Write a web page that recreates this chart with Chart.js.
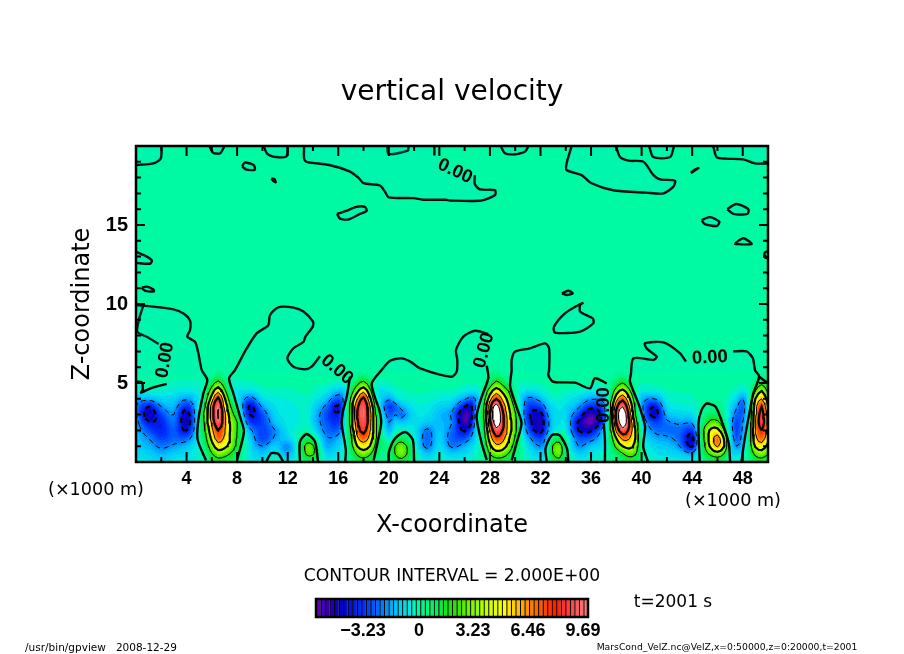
<!DOCTYPE html>
<html>
<head>
<meta charset="utf-8">
<title>vertical velocity</title>
<script src="https://cdn.jsdelivr.net/npm/chart.js@4"></script>
<style>
  html, body { margin: 0; padding: 0; background: #ffffff; }
  canvas { display: block; }
</style>
</head>
<body>
<canvas id="contourChart" width="904" height="654"></canvas>
<script>
// vertical velocity field, x and z in km
const xGrid = [0,1,2,3,4,5,5.5,6,6.5,7,7.5,8,9,10,11,12,13,13.5,14,15,16,16.5,17,17.5,18,18.5,19,20,20.5,21,22,23,24,25,26,26.5,27,27.5,28,28.5,29,29.5,30,31,32,32.5,33,33.5,34,35,36,37,37.5,38,38.5,39,39.5,40,41,42,43,44,44.5,45,45.5,46,46.5,47,47.5,48,48.5,49,49.5,50];
const zGrid = [0,0.5,1,1.5,2,2.5,3,3.5,4,4.5,5,5.5,6];

// one profile per xGrid entry, bottom to top (z = 0 ... 5.5, z = 6 is taken as 0)
const velocityColumns = [
  [-.5,-.8,-1,-1.2,-1.3,-1.5,-1.8,-2,-1.5,-.3,-.2,-.1],
  [-.6,-1,-1.5,-2,-2.8,-3.8,-4.8,-4,-1.5,-.3,-.1,-.1],
  [-.8,-1.5,-2.2,-3,-3.6,-3.6,-3,-2,-1,-.3,-.1,-.1],
  [-.5,-1,-1.8,-2.5,-2.6,-2.3,-2,-1.5,-1,-.5,-.2,-.1],
  [-.4,-.8,-1.3,-2.5,-4,-4.8,-4.6,-3.5,-1.8,-.6,-.2,-.1],
  [-.3,-.3,-.2,-.2,0,.1,0,-.2,-.6,-.4,-.2,-.1],
  [0,.3,1,1.6,2.2,2.6,3,2.2,1.2,.5,.1,0],
  [.5,1.8,3.2,4.5,5.5,6.4,7,7,5,3,1.2,.1],
  [1,3,5,7,8,9.6,10.2,9.8,8.5,5.4,2.6,.6],
  [.9,2.6,4.5,5.7,6.2,6.6,6.6,5.6,4.4,2.5,1,.1],
  [.6,1.8,3.2,3.6,3.7,3.6,2.8,2,.8,.1,-.2,-.1],
  [.2,.8,1.5,1.8,2,2,1.2,.3,-.5,-.6,-.2,-.1],
  [-.4,-.6,-.8,-1,-1.6,-3,-4,-4.2,-2.5,-.8,-.2,-.1],
  [-.6,-1.2,-2,-3,-3,-3,-2.8,-1.8,-.8,-.3,-.1,-.1],
  [.1,-.5,-1,-1.8,-2,-1.3,-.9,-.7,-.5,-.2,-.1,-.1],
  [-.5,-1.5,-2,-1,-.7,-.6,-.6,-.5,-.4,-.2,-.1,0],
  [.1,.4,.6,.2,-.2,-.4,-.4,-.4,-.3,-.1,-.1,0],
  [.5,2.2,2.6,.9,0,-.2,-.3,-.3,-.2,-.1,0,0],
  [.3,2.2,2.2,.6,-.5,-1,-1,-.8,-.4,-.2,-.1,0],
  [-.3,-.8,-1.5,-1.8,-2.3,-2.6,-2.8,-2.2,-1.2,-.5,-.1,0],
  [-.4,-.6,-1,-1.6,-2.5,-3.2,-3.8,-4.2,-2.8,-1.3,-.3,0],
  [-.2,-.2,-.3,-.3,-.5,-.8,-1,-1.2,-1.5,-1,-.1,0],
  [.2,.6,1.2,1.6,2.2,2.6,3,3,2.2,1,.2,0],
  [.8,2.2,4,5.6,6.8,7.6,8,7.6,5.8,3.5,1.5,.2],
  [1,3,5,7,8.6,9.2,9.5,9.4,8.5,5.4,2.5,.5],
  [.7,2.2,4,5.4,6.2,6.8,7,6.4,4.6,2.6,1,.1],
  [.2,.8,1.5,2,2.2,2.2,1.8,1,.2,-.4,-.2,0],
  [.1,.4,.4,-.5,-1.5,-2,-2.6,-3.2,-1.8,-.6,-.2,0],
  [.8,2,2,.6,-.3,-1,-2,-2.6,-1,-.3,-.1,0],
  [1,3,3,1,-.2,-1.2,-2.4,-1.6,-.5,-.2,-.1,0],
  [.1,.3,.1,-.3,-.6,-.7,-.8,-.6,-.3,-.1,-.1,0],
  [-.4,-1.2,-2.3,-2.5,-2.2,-1.2,-.7,-.5,-.3,-.1,0,0],
  [-.3,-.5,-.8,-1,-1.2,-1.4,-1.4,-1,-.5,-.2,0,0],
  [-.4,-1,-2.2,-2.6,-2.4,-2,-2.2,-1.5,-.7,-.2,0,0],
  [-.4,-.8,-1.5,-2.8,-4.2,-5.5,-5.6,-4,-1.8,-.5,-.1,0],
  [-.3,-.5,-1,-1.8,-3,-4.2,-4.8,-4.4,-2.4,-.7,-.1,0],
  [-.1,-.2,-.4,-.5,-.4,-.3,-.3,-1,-1.6,-.6,-.1,0],
  [0,.2,.4,.8,1.2,1.6,2,1.8,1,.5,.1,0],
  [.6,2,3.5,5,6.2,7.4,8,7.4,5.2,3,1,.2],
  [1,3,5.5,7.5,9.4,11,11.6,11,8,5,2.5,.7],
  [1,2.8,5,6.8,8,8.8,8.6,7.4,5.6,3.5,1.5,.2],
  [.5,1.8,3.2,4.2,5,5,4.6,4,3,1.8,.5,0],
  [.1,.7,1.2,1.8,2.4,2.6,2.2,1.5,.6,.1,-.1,0],
  [-.3,-.4,-.8,-1.5,-2.5,-3,-3.5,-3,-2.2,-.8,-.2,0],
  [-.4,-1,-2,-3,-4.6,-5,-4.6,-3,-1.5,-.5,-.1,0],
  [-.1,-.3,-.8,-1.5,-2.4,-2.6,-2.2,-1.5,-.7,-.2,-.1,0],
  [.8,2,2.2,.6,-.8,-1,-1,-.8,-.4,-.1,0,0],
  [1,2.8,2.8,1,-.4,-.7,-.7,-.6,-.3,-.1,0,0],
  [.3,.6,.5,.1,-.5,-.8,-1,-.8,-.5,-.2,0,0],
  [-.4,-1,-2,-2.6,-4,-4.2,-3,-1.8,-1,-.3,0,0],
  [-.3,-.6,-1.2,-2.5,-4.2,-6,-5.5,-3.5,-1.8,-.5,-.1,0],
  [-.1,-.3,-.6,-.8,-1.2,-2.6,-3,-2.4,-1.6,-.4,-.1,0],
  [.1,.2,.4,.8,1.3,1.8,2,1.6,.8,.3,.1,0],
  [.3,.8,2.5,4,6.4,8,8.6,7.4,5.2,3,1,.2],
  [.6,1.8,4,6.5,9.4,11,11.6,10,7.4,4.5,2,.4],
  [.9,2.6,4.6,6.2,7.6,8.4,7.6,6.4,4.6,2.5,.8,0],
  [.7,2.2,3.4,4,4,3.2,2.2,1.6,.8,.2,0,0],
  [.1,.3,.3,.1,-.2,-.6,-1.2,-1.6,-1.4,-.5,-.1,0],
  [-.3,-.6,-.9,-1.5,-2.2,-3,-4.5,-4,-2,-.5,-.1,0],
  [-.3,-.8,-1.2,-1.8,-2.4,-2.2,-1.5,-.9,-.5,-.2,0,0],
  [-.4,-1,-2,-2.5,-2.5,-1.8,-1,-.5,-.3,-.1,0,0],
  [-.2,-1.6,-4.2,-4.6,-3.2,-1.8,-.8,-.4,-.2,-.1,0,0],
  [-.1,-.4,-.8,-.8,-.5,-.3,-.2,-.1,-.1,0,0,0],
  [.1,1.2,2,2.4,2.6,1.2,.4,.2,.1,0,0,0],
  [.4,2.4,4.6,5,4.4,2.6,1,.3,.1,0,0,0],
  [.5,3,6.2,6.8,4.6,2.4,1,.3,.1,0,0,0],
  [.3,2,4.2,4,2.2,.9,.3,.1,0,0,0,0],
  [-.2,-.5,-.3,-.5,-1,-1.2,-1,-.7,-.4,-.1,0,0],
  [-.2,-.8,-2,-2.6,-3,-3,-2.5,-1.8,-1,-.3,-.1,0],
  [-.1,-.5,-1.2,-1.5,-1.8,-2,-2.4,-2.6,-2,-.6,-.1,0],
  [.3,.5,.8,.8,.7,.4,.2,0,-.2,-.1,0,0],
  [.8,2.4,4.2,5.4,6,5.8,5.5,5,4,2,.5,0],
  [1,3,5,7,8,9,8.8,8,6,4,1.5,.2],
  [.5,2,3.5,4.5,5.5,5.5,5,4,3,1.5,.3,0]
];

// zero contours traced by hand, [x km, z km]
const zeroTopLeft = [[0,18.8],[1.37,18.9],[1.95,19.2],[2.03,20]];
const zeroArcA = [[5.8,20],[6.1,19.58],[6.65,19.54],[7,20]];
const zeroArcB = [[10.1,20],[10.4,19.5],[11.1,19.3],[11.9,19.35],[12,20]];
const zeroArcC = [[19.9,20],[19.97,19.5],[21.5,19.7],[21.55,20]];
const zeroArcD = [[28.85,20],[29.2,19.54],[29.98,19.48],[30.78,19.65],[31.04,20]];
const zeroArcE = [[40.6,20],[40.93,19.3],[42.25,19.3],[42.56,20]];
const zeroTopRight = [[45.67,20],[45.94,19.3],[46.73,19.2],[48.05,19.15],[48.97,18.9],[50,18.9]];
const zeroTopMiddle = [[13.3,20],[13.3,19.2],[13.5,19],[15.3,18.8],[16.9,18.4],[17.6,18],[18,17.65],[19.3,17.5],[19.7,17.1],[20,16.75],[22,16.7],[22.7,16.6],[24.5,16.6],[24.85,16.55],[27.3,16.55],[28.4,16.9],[28.4,17.2],[27.2,17.25],[26.8,17.6],[26.8,18.15]];
const zeroTopMiddleEnd = [[23.6,20],[23.6,19.4]];
const zeroTopBlob = [[34.47,20],[34.07,18.9],[34.07,18.48],[35.26,18.16],[36.05,17.64],[37.76,17.2],[40.4,17.05],[41.72,17],[42.51,17.43],[42.64,17.8],[41.45,17.89],[40.93,18.16],[40.14,19],[38.95,19.07],[38.29,19.3],[37.97,20]];
const zeroBlobs = [
  [[8.4,18.7],[8.75,18.5],[9.4,18.5],[9.3,18.8],[8.6,18.95],[8.4,18.7]],
  [[10.7,17.95],[10.95,17.9],[11.05,17.7],[10.85,17.8],[10.7,17.95]],
  [[15.9,15.7],[16.15,15.4],[16.8,15.35],[17.7,15.7],[18.25,15.9],[18.1,16.15],[17.45,16.15],[16.65,15.9],[15.9,15.7]],
  [[0,13.3],[.85,13],[1.25,12.75],[1.1,12.55],[0,12.6]],
  [[.45,11.03],[.85,11.1],[1.4,10.9],[1.42,10.8],[.7,10.85],[.45,11.03]],
  [[43.9,18.3],[44.5,18.6],[44.2,18.5],[43.9,18.3]],
  [[46.78,16],[47.5,16.33],[48.44,16],[48.37,15.7],[47.26,15.7],[46.78,16]],
  [[44.75,15.3],[45.4,15.5],[46.15,15.2],[45.94,14.94],[45,15.06],[44.75,15.3]],
  [[47.4,13.84],[48.05,14.16],[48.7,13.8],[47.4,13.8],[47.4,13.84]],
  [[50,13.35],[49.75,13.25],[49.75,12.95],[50,12.9]],
  [[33.7,10.67],[34.2,10.84],[34.55,10.67],[34.07,10.57],[33.7,10.67]],
  [[35.4,10.08],[35,9.94],[33.94,9.41],[33.07,8.57],[33.15,8.19],[35.14,8.25],[36.18,8.78],[36.13,9.09],[35.14,9.51],[35.14,9.94],[35.4,10.08]]
];
const zeroPeakOneLeft = [[0,9.93],[.58,9.9],[2.95,9.66],[3.75,9.4],[4.27,8.95],[4.27,8.35],[4.06,7.93],[4.67,7.6],[4.93,6.88],[5.2,5.82],[5.64,5.19],[5.33,4.35],[4.93,2.66],[4.88,1.4],[5.54,.1]];
const zeroLeftLoop = [[.58,9.9],[.3,9.2],[.1,8.25],[.85,7.93],[1.8,7.47]];
const zeroLeftLow = [[0,5.08],[.45,5.05],[.53,4.6],[.4,4.39],[1.1,4.65],[2.43,4.94]];
const zeroPeakOneRight = [[8,.13],[8.54,1.92],[8.23,2.87],[7.7,4.35],[7.36,5.3],[7.83,5.82],[8.75,7.17],[9.55,8.14],[10.47,8.66],[10.6,9.3],[11.26,9.79],[12.45,9.77],[13.24,9.52],[14,8.88],[13.98,8.57],[13.4,7.93],[13.24,7.6],[12.45,7.2],[11.97,6.56],[12.45,6.03],[13.37,5.86],[13.9,6.03],[14.55,6.7]];
const zeroPeakTwoLeft = [[16.93,5.4],[16.67,4.13],[16.4,3.3],[16.27,2.45],[16.6,.76],[16.55,0]];
const zeroPeakTwoRight = [[18.8,.1],[19.1,1.2],[19.4,2.45],[19.25,3.3],[18.9,4.1],[18.65,4.98],[19.43,5.82],[20.1,6.41],[21,6.56],[21.7,6.35],[22.47,5.93],[24.97,5.4],[25.37,5.72],[25.42,6.46],[25.32,7.09],[25.9,7.93],[26.82,8.31],[27.87,8.1]];
const zeroPeakThreeLeft = [[27.75,6.1],[27.87,5.3],[27.35,4.13],[26.95,2.87],[27.35,1.18],[27.75,.13]];
const zeroPeakThreeRight = [[29.72,.1],[30.1,1.18],[30.5,2.45],[30.1,3.5],[29.6,4.78],[29.72,5.82],[29.72,6.46],[29.98,6.98],[31.17,7.19],[32.36,7.51],[32.68,7.19],[32.68,5.82],[32.62,5.5],[33,5.08],[34.73,5.02],[35.92,4.66],[36.3,5.3],[37.24,4.98]];
const zeroPeakFourLeft = [[37,2.45],[37.1,1.39],[37.1,0]];
const zeroPeakFourRight = [[40.5,.02],[40.13,.97],[40.27,2.24],[39.75,3.7],[39.08,5.08],[39.16,5.6],[39.36,6.56],[40.93,6.46],[41.2,6.67],[40.4,7.19],[40.27,7.51],[41.72,7.57],[43.04,6.88],[43.5,6.35]];
const zeroPeakFiveRight = [[47.25,7],[48.3,7],[48.8,6.56],[48.97,5.82],[49.3,5.4],[48.84,4.35],[48.57,3.3],[48.1,1.18],[47.9,0]];
const zeroRightEdge = [[49.3,5.4],[50,4.98]];
const zeroBumps = [
  [[10.3,0],[10.7,.55],[11.26,.5],[11.66,0]],
  [[12.97,0],[12.97,1.29],[13.5,1.77],[14.16,1.29],[14.4,0]],
  [[20,0],[20,.6],[20.5,1.5],[21.3,1.9],[21.9,1.4],[22,0]],
  [[32.5,0],[32.4,.85],[32.9,1.7],[33.5,1.7],[34.1,.85],[34.2,0]],
  [[44.6,0],[44.5,2.45],[44.75,3.3],[45.15,3.7],[45.85,3.5],[46.4,2.45],[46.9,1.18],[47,0]]
];

const contourLevels = [-6,-4,-2,2,4,6,8,10];
const thickLevels = [-4,4,8];

// "0.00" labels on the zero contour: x km, z km, rotation in degrees
const labelX = [2.3,15.9,25.24,27.53,45.4,37];
const labelZ = [6.45,5.85,18.4,7.07,6.6,3.6];
const labelAngle = [-80,40,25,-75,-3,-90];

const xMajorTicks = [4,8,12,16,20,24,28,32,36,40,44,48];
const xMinorTicks = [2,6,10,14,18,22,26,30,34,38,42,46];
const zMajorTicks = [5,10,15];
const zMinorTicks = [1,2,3,4,6,7,8,9,11,12,13,14,16,17,18,19];

// colour table and colour bar labels
const rampValues = [-6,-5.2,-4.5,-3.2,-2.2,-1.4,-.5,0,1,2,3.2,4.2,5,6,6.8,8,9,9.94];
const rampColors = [[106,0,190],[40,0,170],[0,0,205],[0,50,255],[0,120,255],[0,190,255],[0,235,225],[0,250,162],[0,240,90],[30,225,0],[130,250,0],[210,255,0],[255,255,0],[255,175,0],[255,110,0],[255,30,0],[255,70,70],[255,130,130]];
const barLabels = ['\u22123.23','0','3.23','6.46','9.69'];
const barLabelCenters = [363,419,473,528,583];
const barMin = -6;
const barMax = 9.94;
const barStep = 0.266;

const LINE_FONT = "'DejaVu Sans', sans-serif";
const TICK_FONT = "'Liberation Sans', sans-serif";
const FINE_STEP = 0.25;

function rampColor(v) {
    let i = 0;
    while (i < rampValues.length - 2 && v > rampValues[i + 1]) i++;
    const t = Math.min(1, Math.max(0, (v - rampValues[i]) / (rampValues[i + 1] - rampValues[i])));
    const c = rampColors[i].map((a, k) => Math.round(a + (rampColors[i + 1][k] - a) * t));
    return `rgb(${c[0]},${c[1]},${c[2]})`;
}

const bandCache = {};
function bandColor(v) {
    if (v >= barMax) return '#ffffff';
    const idx = Math.floor((Math.max(v, barMin) - barMin) / barStep);
    if (!bandCache[idx]) bandCache[idx] = rampColor(barMin + (idx + 0.5) * barStep);
    return bandCache[idx];
}

function cellValue(col, row) {
    return row >= velocityColumns[col].length ? 0 : velocityColumns[col][row];
}

// cubic resampling so the shading and the contours come out round, like the original plot
function hermite(xs, fs, x) {
    let i = 0;
    while (i < xs.length - 2 && x > xs[i + 1]) i++;
    const h = xs[i + 1] - xs[i];
    const t = (x - xs[i]) / h;
    const slope = k => {
        if (k === 0) return (fs[1] - fs[0]) / (xs[1] - xs[0]);
        if (k === xs.length - 1) return (fs[k] - fs[k - 1]) / (xs[k] - xs[k - 1]);
        return (fs[k + 1] - fs[k - 1]) / (xs[k + 1] - xs[k - 1]);
    };
    const t2 = t * t, t3 = t2 * t;
    return (2 * t3 - 3 * t2 + 1) * fs[i] + (t3 - 2 * t2 + t) * h * slope(i) +
        (-2 * t3 + 3 * t2) * fs[i + 1] + (t3 - t2) * h * slope(i + 1);
}

const fineX = [];
for (let i = 0; i <= 50 / FINE_STEP; i++) fineX.push(i * FINE_STEP);
const fineZ = [];
for (let i = 0; i <= 6 / FINE_STEP; i++) fineZ.push(i * FINE_STEP);

const rowsOnFineX = zGrid.map((_, j) => {
    const row = xGrid.map((_, i) => cellValue(i, j));
    return fineX.map(x => hermite(xGrid, row, x));
});
const fineField = fineX.map((_, i) => {
    const profile = rowsOnFineX.map(row => row[i]);
    return fineZ.map(z => hermite(zGrid, profile, z));
});

function fieldAt(x, z) {
    const i = Math.min(fineX.length - 2, Math.floor(x / FINE_STEP));
    const j = Math.min(fineZ.length - 2, Math.floor(z / FINE_STEP));
    const tx = x / FINE_STEP - i, tz = z / FINE_STEP - j;
    const low = fineField[i][j] * (1 - tx) + fineField[i + 1][j] * tx;
    const high = fineField[i][j + 1] * (1 - tx) + fineField[i + 1][j + 1] * tx;
    return low * (1 - tz) + high * tz;
}

// marching squares, segments stitched into polylines
function traceLevel(level) {
    const segments = [];
    const cross = (x0, z0, a, x1, z1, b) => {
        const t = (level - a) / (b - a);
        return [x0 + (x1 - x0) * t, z0 + (z1 - z0) * t];
    };
    for (let i = 0; i < fineX.length - 1; i++) {
        for (let j = 0; j < fineZ.length - 1; j++) {
            const x0 = fineX[i], x1 = fineX[i + 1], z0 = fineZ[j], z1 = fineZ[j + 1];
            const a = fineField[i][j], b = fineField[i + 1][j], c = fineField[i + 1][j + 1], d = fineField[i][j + 1];
            const pts = [];
            if ((a < level) !== (b < level)) pts.push(cross(x0, z0, a, x1, z0, b));
            if ((b < level) !== (c < level)) pts.push(cross(x1, z0, b, x1, z1, c));
            if ((d < level) !== (c < level)) pts.push(cross(x0, z1, d, x1, z1, c));
            if ((a < level) !== (d < level)) pts.push(cross(x0, z0, a, x0, z1, d));
            if (pts.length >= 2) segments.push([pts[0], pts[1]]);
            if (pts.length === 4) segments.push([pts[2], pts[3]]);
        }
    }
    const key = p => p[0].toFixed(4) + ',' + p[1].toFixed(4);
    const ends = {};
    segments.forEach((s, n) => {
        s.forEach(p => {
            const k = key(p);
            (ends[k] = ends[k] || []).push(n);
        });
    });
    const used = new Array(segments.length).fill(false);
    const extend = line => {
        for (;;) {
            const tail = key(line[line.length - 1]);
            const next = (ends[tail] || []).find(n => !used[n]);
            if (next === undefined) return;
            used[next] = true;
            const s = segments[next];
            line.push(key(s[0]) === tail ? s[1] : s[0]);
        }
    };
    const lines = [];
    segments.forEach((s, n) => {
        if (used[n]) return;
        used[n] = true;
        const line = [s[0], s[1]];
        extend(line);
        line.reverse();
        extend(line);
        lines.push(line);
    });
    return lines;
}

const toPoints = line => line.map(p => ({ x: p[0], y: p[1] }));

function lineDataset(line, width, dash, tension) {
    return {
        data: toPoints(line),
        showLine: true,
        borderColor: '#000000',
        borderWidth: width,
        borderDash: dash || [],
        pointRadius: 0,
        tension: tension,
        fill: false
    };
}

function patchDataset(line) {
    return {
        data: toPoints(line),
        showLine: true,
        borderWidth: 0,
        borderColor: 'rgba(0,0,0,0)',
        backgroundColor: 'rgba(0,225,225,0.14)',
        pointRadius: 0,
        tension: 0.25,
        fill: 'shape'
    };
}

const above = (line, z) => line.filter(p => p[1] >= z);

const patches = [
    zeroTopLeft.concat([[0, 20]]), zeroArcA, zeroArcB, zeroArcC, zeroArcD, zeroArcE,
    zeroTopRight.concat([[50, 20]]), zeroTopMiddle.concat(zeroTopMiddleEnd.slice().reverse()), zeroTopBlob,
    ...zeroBlobs,
    above(zeroPeakOneLeft, 5.5).concat([[5.5, 5.5], [0, 5.5]]),
    above(zeroPeakOneRight, 5.5).concat([[16.5, 5.5]]),
    above(zeroPeakTwoRight, 5.3).concat([[27.6, 5.5]]),
    above(zeroPeakThreeRight, 5.4),
    above(zeroPeakFourRight, 5.5).concat([[45.5, 6.3], [47.25, 7], [48.3, 7], [48.8, 6.56], [48.97, 5.82]])
];

const zeroLines = [
    zeroTopLeft, zeroArcA, zeroArcB, zeroArcC, zeroArcD, zeroArcE, zeroTopRight, zeroTopMiddle, zeroTopMiddleEnd,
    zeroTopBlob, ...zeroBlobs, zeroPeakOneLeft, zeroLeftLoop, zeroLeftLow, zeroPeakOneRight, zeroPeakTwoLeft,
    zeroPeakTwoRight, zeroPeakThreeLeft, zeroPeakThreeRight, zeroPeakFourLeft, zeroPeakFourRight, zeroPeakFiveRight,
    zeroRightEdge, ...zeroBumps
];

const datasets = patches.map(patchDataset).concat(zeroLines.map(l => lineDataset(l, 2.4, null, 0.25)));
contourLevels.forEach(level => {
    const width = thickLevels.includes(level) ? 2.2 : 1;
    traceLevel(level).forEach(line => {
        datasets.push(lineDataset(line, width, level < 0 ? [5, 4] : null, 0));
    });
});

const fieldPlugin = {
    id: 'fieldPlugin',
    beforeDatasetsDraw(chart) {
        const { ctx, chartArea: area, scales: { x, y } } = chart;
        ctx.save();
        ctx.fillStyle = bandColor(0);
        ctx.fillRect(area.left, area.top, area.right - area.left, area.bottom - area.top);
        const topRow = Math.floor(y.getPixelForValue(6));
        for (let py = topRow; py < area.bottom; py++) {
            const z = Math.max(0, y.getValueForPixel(py + 0.5));
            for (let px = area.left; px < area.right; px++) {
                ctx.fillStyle = bandColor(fieldAt(x.getValueForPixel(px + 0.5), z));
                ctx.fillRect(px, py, 1, 1);
            }
        }
        ctx.restore();
    }
};

function drawText(ctx, text, px, py, font, align) {
    ctx.font = font;
    ctx.textAlign = align || 'center';
    ctx.textBaseline = 'middle';
    ctx.fillText(text, px, py);
}

const framePlugin = {
    id: 'framePlugin',
    afterDatasetsDraw(chart) {
        const { ctx, chartArea: area, scales: { x, y } } = chart;
        ctx.save();
        ctx.fillStyle = '#000000';
        ctx.strokeStyle = '#000000';

        // rotated contour labels
        labelX.forEach((v, i) => {
            ctx.save();
            ctx.translate(x.getPixelForValue(v), y.getPixelForValue(labelZ[i]));
            ctx.rotate(labelAngle[i] * Math.PI / 180);
            drawText(ctx, '0.00', 0, 0, `bold 18.5px ${TICK_FONT}`);
            ctx.restore();
        });

        // inward ticks on all four sides
        ctx.lineWidth = 2;
        const xTick = (v, len) => {
            const px = x.getPixelForValue(v);
            ctx.beginPath();
            ctx.moveTo(px, area.top); ctx.lineTo(px, area.top + len);
            ctx.moveTo(px, area.bottom); ctx.lineTo(px, area.bottom - len);
            ctx.stroke();
        };
        const zTick = (v, len) => {
            const py = y.getPixelForValue(v);
            ctx.beginPath();
            ctx.moveTo(area.left, py); ctx.lineTo(area.left + len, py);
            ctx.moveTo(area.right, py); ctx.lineTo(area.right - len, py);
            ctx.stroke();
        };
        xMajorTicks.forEach(v => xTick(v, 10));
        xMinorTicks.forEach(v => xTick(v, 5));
        zMajorTicks.forEach(v => zTick(v, 9));
        zMinorTicks.forEach(v => zTick(v, 5));

        ctx.lineWidth = 2.5;
        ctx.strokeRect(area.left, area.top, area.right - area.left, area.bottom - area.top);

        // colour bar
        const barLeft = 316, barRight = 588, barTop = 599, barBottom = 617;
        const cells = Math.round((barMax - barMin) / barStep);
        const cellWidth = (barRight - barLeft) / cells;
        for (let i = 0; i < cells; i++) {
            ctx.fillStyle = rampColor(barMin + (i + 0.5) * barStep);
            ctx.fillRect(barLeft + i * cellWidth, barTop, cellWidth, barBottom - barTop);
            ctx.fillStyle = '#000000';
            ctx.fillRect(barLeft + i * cellWidth, barTop, 1, barBottom - barTop);
        }
        ctx.lineWidth = 2.5;
        ctx.strokeRect(barLeft, barTop, barRight - barLeft, barBottom - barTop);

        ctx.fillStyle = '#000000';
        barLabels.forEach((t, i) => {
            drawText(ctx, t, barLabelCenters[i], 631, `bold 18px ${TICK_FONT}`);
        });

        drawText(ctx, 'vertical velocity', 452, 93, `28px ${LINE_FONT}`);
        drawText(ctx, 'CONTOUR INTERVAL = 2.000E+00', 452, 577, `17.2px ${LINE_FONT}`);
        drawText(ctx, 't=2001 s', 673, 603, `17px ${LINE_FONT}`);
        drawText(ctx, '(\u00d71000 m)', 96, 490, `17.6px ${LINE_FONT}`);
        drawText(ctx, '(\u00d71000 m)', 733, 501, `17.6px ${LINE_FONT}`);
        drawText(ctx, '/usr/bin/gpview   2008-12-29', 101, 648, `10.5px ${LINE_FONT}`);
        drawText(ctx, 'MarsCond_VelZ.nc@VelZ,x=0:50000,z=0:20000,t=2001', 727, 648, `9.25px ${LINE_FONT}`);
        ctx.restore();
    }
};

new Chart(document.getElementById('contourChart').getContext('2d'), {
    type: 'scatter',
    data: { datasets: datasets },
    plugins: [fieldPlugin, framePlugin],
    options: {
        responsive: false,
        devicePixelRatio: 1,
        animation: false,
        layout: { padding: { left: 68, right: 136, top: 146, bottom: 114 } },
        plugins: {
            legend: { display: false },
            tooltip: { enabled: false }
        },
        scales: {
            x: {
                type: 'linear',
                min: 0,
                max: 50,
                grid: { display: false, drawTicks: false },
                border: { display: false },
                afterFit: scale => { scale.height = 78; },
                ticks: {
                    stepSize: 4,
                    includeBounds: false,
                    color: '#000000',
                    padding: 6,
                    maxRotation: 0,
                    autoSkip: false,
                    font: { family: TICK_FONT, size: 18, weight: 'bold' },
                    callback: v => (v === 0 ? '' : v)
                },
                title: {
                    display: true,
                    text: 'X-coordinate',
                    color: '#000000',
                    padding: 0,
                    font: { family: LINE_FONT, size: 24 }
                }
            },
            y: {
                type: 'linear',
                min: 0,
                max: 20,
                grid: { display: false, drawTicks: false },
                border: { display: false },
                afterFit: scale => { scale.width = 68; },
                ticks: {
                    stepSize: 5,
                    color: '#000000',
                    padding: 8,
                    font: { family: TICK_FONT, size: 20, weight: 'bold' },
                    callback: v => (v === 0 || v === 20 ? '' : v)
                },
                title: {
                    display: true,
                    text: 'Z-coordinate',
                    color: '#000000',
                    padding: 0,
                    font: { family: LINE_FONT, size: 24 }
                }
            }
        }
    }
});
</script>
</body>
</html>
